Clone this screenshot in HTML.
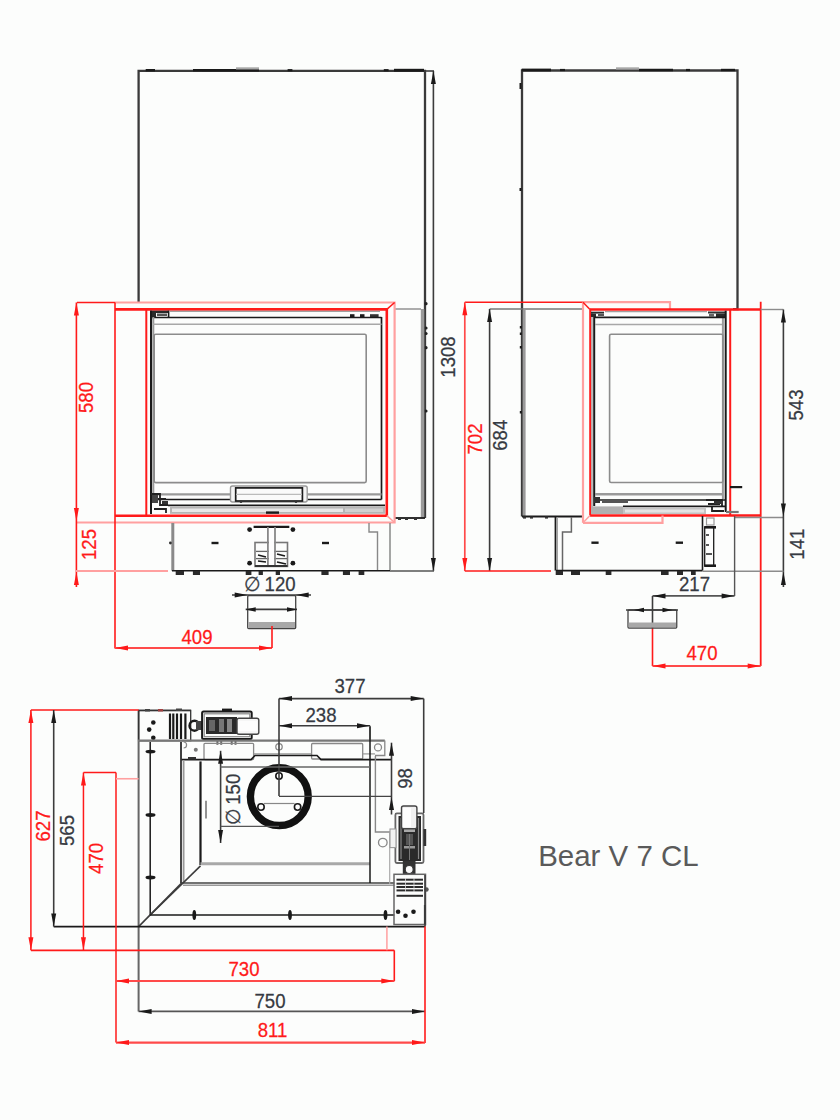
<!DOCTYPE html>
<html><head><meta charset="utf-8"><style>
html,body{margin:0;padding:0;background:#fcfdfc;}
svg{display:block;font-family:"Liberation Sans",sans-serif;}
</style></head><body>
<svg width="840" height="1120" viewBox="0 0 840 1120">
<rect width="840" height="1120" fill="#fcfdfc"/>
<path d="M138.6,302 L138.6,70.8 L425,70.8 L425,518" stroke="#3a3a3a" stroke-width="2.3" fill="none"/>
<line x1="145.7" y1="70.2" x2="155" y2="70.2" stroke="#1a1a1a" stroke-width="2.4"/>
<line x1="193" y1="70.2" x2="202" y2="70.2" stroke="#1a1a1a" stroke-width="2.4"/>
<line x1="202" y1="70.2" x2="259" y2="70.2" stroke="#1a1a1a" stroke-width="2.6"/>
<line x1="287.6" y1="70.2" x2="292.4" y2="70.2" stroke="#1a1a1a" stroke-width="2.2"/>
<line x1="383.8" y1="70.2" x2="388.6" y2="70.2" stroke="#1a1a1a" stroke-width="2.2"/>
<line x1="394" y1="70.2" x2="424" y2="70.2" stroke="#1a1a1a" stroke-width="2.8"/>
<rect x="236" y="67.3" width="23.00" height="2.20" fill="#a8a8a8"/>
<circle cx="426" cy="303.7" r="1.6" fill="#222"/>
<circle cx="426" cy="328" r="1.6" fill="#222"/>
<circle cx="426" cy="333.5" r="1.6" fill="#222"/>
<circle cx="426" cy="347.7" r="1.6" fill="#222"/>
<circle cx="426" cy="411" r="1.6" fill="#222"/>
<line x1="425" y1="71" x2="434" y2="71" stroke="#3c3c3c" stroke-width="1.6"/>
<line x1="433.4" y1="71" x2="433.4" y2="571" stroke="#3c3c3c" stroke-width="1.6"/>
<polygon points="433.4,71 430.9,84 435.9,84" fill="#1a1a1a"/>
<polygon points="433.4,571 430.9,558 435.9,558" fill="#1a1a1a"/>
<line x1="390" y1="571" x2="434" y2="571" stroke="#555555" stroke-width="1.3"/>
<text transform="translate(448,357) rotate(-90) scale(0.95,1)" x="0" y="7.14" text-anchor="middle" fill="#363a42" stroke="#363a42" stroke-width="0.25" font-size="19.6">1308</text>
<line x1="395" y1="309" x2="421" y2="309" stroke="#999" stroke-width="1.6"/>
<rect x="420.8" y="309" width="3.50" height="209.00" fill="#9a9a9a"/>
<line x1="395" y1="518" x2="425" y2="518" stroke="#1a1a1a" stroke-width="1.8"/>
<rect x="398" y="518" width="3.00" height="2.00" fill="#333"/>
<rect x="405" y="518" width="3.00" height="2.00" fill="#333"/>
<rect x="414" y="518" width="3.00" height="2.00" fill="#333"/>
<line x1="77" y1="302.5" x2="115" y2="302.5" stroke="#ff1a1a" stroke-width="1.6"/>
<path d="M115,302.5 L394.6,302.5 L394.6,522.5 L76,522.5" stroke="#ffa0a0" stroke-width="2.2" fill="none"/>
<line x1="115" y1="302.5" x2="115" y2="648.5" stroke="#ff1a1a" stroke-width="1.6"/>
<path d="M115,309.4 L386.8,309.4 L386.8,515.7 L115,515.7" stroke="#ff1a1a" stroke-width="2.6" fill="none"/>
<line x1="146.3" y1="309.4" x2="146.3" y2="515.7" stroke="#ff1a1a" stroke-width="2.0"/>
<line x1="394.6" y1="302.5" x2="386.8" y2="309.4" stroke="#ff1a1a" stroke-width="1.5"/>
<line x1="394.6" y1="522.5" x2="386.8" y2="515.7" stroke="#ffa0a0" stroke-width="1.6"/>
<line x1="76.4" y1="302.5" x2="76.4" y2="587" stroke="#ff1a1a" stroke-width="1.6"/>
<polygon points="76.4,302.5 73.9,315.5 78.9,315.5" fill="#ff1a1a"/>
<polygon points="76.4,521 73.9,508 78.9,508" fill="#ff1a1a"/>
<polygon points="76.4,572 73.9,585 78.9,585" fill="#ff1a1a"/>
<line x1="76" y1="571" x2="168" y2="571" stroke="#ffa0a0" stroke-width="2.0"/>
<text transform="translate(86.3,397.5) rotate(-90) scale(0.95,1)" x="0" y="7.14" text-anchor="middle" fill="#ff1a1a" stroke="#ff1a1a" stroke-width="0.25" font-size="19.6">580</text>
<text transform="translate(89,544.5) rotate(-90) scale(0.95,1)" x="0" y="7.14" text-anchor="middle" fill="#ff1a1a" stroke="#ff1a1a" stroke-width="0.25" font-size="19.6">125</text>
<rect x="150" y="310.7" width="19.00" height="2.30" fill="#2a2a2a"/>
<rect x="150" y="313" width="6.00" height="4.00" fill="#2a2a2a"/>
<rect x="157" y="313.5" width="10.00" height="2.50" fill="#555"/>
<line x1="168.6" y1="310.7" x2="168.6" y2="317.5" stroke="#1a1a1a" stroke-width="1.6"/>
<line x1="169" y1="311.4" x2="380" y2="311.4" stroke="#a0a0a0" stroke-width="1.3"/>
<rect x="350" y="314.2" width="4.50" height="3.30" fill="#1a1a1a"/>
<rect x="360" y="314.2" width="4.50" height="3.30" fill="#1a1a1a"/>
<rect x="370" y="314.2" width="8.60" height="3.30" fill="#333"/>
<line x1="150" y1="317.5" x2="381.5" y2="317.5" stroke="#1a1a1a" stroke-width="1.7"/>
<line x1="151" y1="310.7" x2="151" y2="514" stroke="#1a1a1a" stroke-width="2.0"/>
<line x1="153.3" y1="317" x2="153.3" y2="494" stroke="#9a9a9a" stroke-width="2.0"/>
<line x1="381.5" y1="317" x2="381.5" y2="499.5" stroke="#1a1a1a" stroke-width="1.7"/>
<line x1="153" y1="324.3" x2="381.5" y2="324.3" stroke="#a8a8a8" stroke-width="1.6"/>
<rect x="154.2" y="334.3" width="212.00" height="148.30" rx="1.5" stroke="#8c8c8c" stroke-width="1.6" fill="none"/>
<line x1="154" y1="494.3" x2="381.5" y2="494.3" stroke="#9a9a9a" stroke-width="2.2"/>
<line x1="152" y1="499.4" x2="381.5" y2="499.4" stroke="#1a1a1a" stroke-width="1.5"/>
<path d="M151,494 L160,494 L160,505 L168,505 M153,499 L166,499 M154,509 L166,509 L166,513" stroke="#222" stroke-width="1.8" fill="none"/>
<rect x="152" y="495" width="6.00" height="8.00" fill="#444"/>
<rect x="162" y="501" width="6.00" height="3.00" fill="#333"/>
<rect x="230.5" y="486" width="76.70" height="16.00" rx="2" stroke="#999" stroke-width="1.4" fill="#f4f4f4"/>
<rect x="235.7" y="487.9" width="66.70" height="13.10" rx="0" stroke="#1a1a1a" stroke-width="1.7" fill="#fafafa"/>
<line x1="236" y1="494.3" x2="302" y2="494.3" stroke="#bbb" stroke-width="1.2"/>
<circle cx="241" cy="501.8" r="1.3" fill="#333"/>
<circle cx="296" cy="501.8" r="1.3" fill="#333"/>
<line x1="168" y1="505.3" x2="385" y2="505.3" stroke="#1a1a1a" stroke-width="1.7"/>
<rect x="170" y="506.8" width="215.00" height="7.00" fill="#b5b5b5"/>
<rect x="172" y="508.5" width="171.00" height="3.50" fill="#e8e8e8"/>
<rect x="345" y="508.5" width="38.00" height="3.50" fill="#d0d0d0"/>
<rect x="266" y="511.4" width="13.00" height="2.40" fill="#1a1a1a"/>
<rect x="171.3" y="523" width="3.00" height="47.70" fill="#8a8a8a"/>
<circle cx="170.4" cy="543" r="1.4" fill="#333"/>
<line x1="390" y1="523" x2="390" y2="570.7" stroke="#888" stroke-width="1.5"/>
<path d="M369,523 L369,532 L377.5,532 L377.5,570.7" stroke="#888" stroke-width="1.4" fill="none"/>
<line x1="172" y1="570.7" x2="390" y2="570.7" stroke="#1a1a1a" stroke-width="1.6"/>
<rect x="175.7" y="571" width="8.30" height="4.00" fill="#2a2a2a"/>
<rect x="192.9" y="571" width="7.10" height="4.00" fill="#2a2a2a"/>
<rect x="245.7" y="571" width="5.70" height="4.00" fill="#2a2a2a"/>
<rect x="258.6" y="571" width="4.30" height="4.00" fill="#2a2a2a"/>
<rect x="275.7" y="571" width="4.30" height="4.00" fill="#2a2a2a"/>
<rect x="321.4" y="571" width="7.20" height="4.00" fill="#2a2a2a"/>
<rect x="342.9" y="571" width="7.10" height="4.00" fill="#2a2a2a"/>
<rect x="358.6" y="571" width="5.70" height="4.00" fill="#2a2a2a"/>
<line x1="211.5" y1="543" x2="218.5" y2="543" stroke="#1a1a1a" stroke-width="2.4"/>
<line x1="322" y1="543" x2="329" y2="543" stroke="#1a1a1a" stroke-width="2.4"/>
<line x1="253.6" y1="526.8" x2="289.3" y2="526.8" stroke="#1a1a1a" stroke-width="2.2"/>
<circle cx="249.6" cy="529.6" r="2.4" fill="#1a1a1a"/>
<circle cx="292.9" cy="529.6" r="2.4" fill="#1a1a1a"/>
<circle cx="249.6" cy="563.2" r="2.4" fill="#1a1a1a"/>
<circle cx="292.9" cy="563.2" r="2.4" fill="#1a1a1a"/>
<rect x="255" y="542.5" width="32.50" height="23.90" rx="0" stroke="#777" stroke-width="1.6" fill="none"/>
<line x1="256" y1="551.4" x2="287" y2="551.4" stroke="#666" stroke-width="1.3"/>
<line x1="256" y1="558.6" x2="287" y2="558.6" stroke="#666" stroke-width="1.3"/>
<path d="M258,555 L266,557 M277,554 L285,556 M258,561 L266,562 M277,562 L286,564" stroke="#1a1a1a" stroke-width="1.6" fill="none"/>
<line x1="267.9" y1="527" x2="267.9" y2="565.7" stroke="#888" stroke-width="1.8"/>
<line x1="275" y1="527" x2="275" y2="565.7" stroke="#888" stroke-width="1.8"/>
<rect x="269" y="528" width="5.00" height="37.00" fill="#fdfdfd"/>
<line x1="255" y1="566" x2="287.5" y2="566" stroke="#333" stroke-width="1.8"/>
<rect x="247.7" y="595.7" width="48.00" height="32.90" rx="1" stroke="#444" stroke-width="1.3" fill="none"/>
<rect x="248.4" y="622" width="46.60" height="6.00" fill="#a8a8a8"/>
<line x1="232" y1="595" x2="311" y2="595" stroke="#3c3c3c" stroke-width="1.6"/>
<polygon points="247.7,595 234.7,592.5 234.7,597.5" fill="#1a1a1a"/>
<polygon points="295.7,595 308.7,592.5 308.7,597.5" fill="#1a1a1a"/>
<line x1="245.7" y1="609.4" x2="297" y2="609.4" stroke="#3c3c3c" stroke-width="1.6"/>
<polygon points="245.7,609.4 255.7,607.15 255.7,611.65" fill="#1a1a1a"/>
<polygon points="297,609.4 287,607.15 287,611.65" fill="#1a1a1a"/>
<text transform="translate(270,591) scale(0.95,1)" x="0" y="0" text-anchor="middle" fill="#363a42" stroke="#363a42" stroke-width="0.25" font-size="19.6">∅ 120</text>
<line x1="115" y1="648" x2="272" y2="648" stroke="#ff4a4a" stroke-width="2.0"/>
<line x1="272" y1="626" x2="272" y2="648" stroke="#ff1a1a" stroke-width="1.6"/>
<polygon points="115,648 128,645.5 128,650.5" fill="#ff1a1a"/>
<polygon points="272,648 259,645.5 259,650.5" fill="#ff1a1a"/>
<text transform="translate(197,644.3) scale(0.95,1)" x="0" y="0" text-anchor="middle" fill="#ff1a1a" stroke="#ff1a1a" stroke-width="0.25" font-size="19.6">409</text>
<path d="M522,516.5 L522,70.5 L737.5,70.5 L737.5,309.2 L733,309.2" stroke="#3a3a3a" stroke-width="2.3" fill="none"/>
<line x1="521.7" y1="70" x2="551" y2="70" stroke="#1a1a1a" stroke-width="2.8"/>
<line x1="560" y1="70" x2="565" y2="70" stroke="#1a1a1a" stroke-width="2.2"/>
<line x1="639" y1="70" x2="673" y2="70" stroke="#1a1a1a" stroke-width="2.6"/>
<line x1="686" y1="70" x2="690" y2="70" stroke="#1a1a1a" stroke-width="2.2"/>
<line x1="721" y1="70" x2="735" y2="70" stroke="#1a1a1a" stroke-width="2.4"/>
<rect x="616" y="67.3" width="23.00" height="2.20" fill="#a8a8a8"/>
<line x1="520.5" y1="83" x2="520.5" y2="89" stroke="#1a1a1a" stroke-width="2"/>
<line x1="520.5" y1="188" x2="520.5" y2="191" stroke="#1a1a1a" stroke-width="2"/>
<line x1="520.8" y1="326" x2="520.8" y2="328.5" stroke="#1a1a1a" stroke-width="2"/>
<line x1="520.8" y1="332.5" x2="520.8" y2="335.0" stroke="#1a1a1a" stroke-width="2"/>
<line x1="520.8" y1="346" x2="520.8" y2="348.5" stroke="#1a1a1a" stroke-width="2"/>
<line x1="520.8" y1="411" x2="520.8" y2="413.5" stroke="#1a1a1a" stroke-width="2"/>
<rect x="522.6" y="310" width="3.00" height="206.50" fill="#9a9a9a"/>
<line x1="522" y1="516.5" x2="583" y2="516.5" stroke="#1a1a1a" stroke-width="1.8"/>
<rect x="523" y="516.5" width="3.00" height="2.10" fill="#333"/>
<rect x="530" y="516.5" width="3.00" height="2.10" fill="#333"/>
<rect x="545" y="516.5" width="3.00" height="2.10" fill="#333"/>
<line x1="489.6" y1="309" x2="583" y2="309" stroke="#777" stroke-width="1.5"/>
<line x1="489.6" y1="309" x2="489.6" y2="571" stroke="#3c3c3c" stroke-width="1.6"/>
<polygon points="489.6,309 487.1,322 492.1,322" fill="#1a1a1a"/>
<polygon points="489.6,571 487.1,558 492.1,558" fill="#1a1a1a"/>
<text transform="translate(499.4,435.3) rotate(-90) scale(0.95,1)" x="0" y="7.14" text-anchor="middle" fill="#363a42" stroke="#363a42" stroke-width="0.25" font-size="19.6">684</text>
<line x1="464.8" y1="302.2" x2="583" y2="302.2" stroke="#ff1a1a" stroke-width="1.6"/>
<line x1="464.8" y1="302.2" x2="464.8" y2="571" stroke="#ff4a4a" stroke-width="1.7"/>
<polygon points="464.8,302.2 462.3,315.2 467.3,315.2" fill="#ff1a1a"/>
<polygon points="464.8,571 462.3,558 467.3,558" fill="#ff1a1a"/>
<line x1="464.8" y1="571" x2="551" y2="571" stroke="#ff1a1a" stroke-width="1.6"/>
<text transform="translate(474.4,439) rotate(-90) scale(0.95,1)" x="0" y="7.14" text-anchor="middle" fill="#ff1a1a" stroke="#ff1a1a" stroke-width="0.25" font-size="19.6">702</text>
<path d="M583,302.2 L670,302.2 L670,309.5" stroke="#ffa0a0" stroke-width="2.2" fill="none"/>
<line x1="583" y1="302.2" x2="583" y2="522.8" stroke="#ffa0a0" stroke-width="2.2"/>
<line x1="583" y1="302.2" x2="590" y2="309.5" stroke="#ff1a1a" stroke-width="1.5"/>
<line x1="590" y1="309.5" x2="760.7" y2="309.5" stroke="#ff1a1a" stroke-width="2.6"/>
<line x1="590.2" y1="309.5" x2="590.2" y2="515.5" stroke="#ff1a1a" stroke-width="2.0"/>
<line x1="590" y1="515.5" x2="760.7" y2="515.5" stroke="#ff1a1a" stroke-width="2.6"/>
<path d="M583,522.8 L662.5,522.8 L662.5,515.5" stroke="#ffa0a0" stroke-width="2.2" fill="none"/>
<line x1="583" y1="522.8" x2="590" y2="515.5" stroke="#ffa0a0" stroke-width="1.5"/>
<line x1="730.2" y1="309.5" x2="730.2" y2="515.5" stroke="#ff1a1a" stroke-width="2.0"/>
<line x1="760.7" y1="301.7" x2="760.7" y2="666" stroke="#ff1a1a" stroke-width="1.8"/>
<line x1="592" y1="312" x2="592" y2="510" stroke="#9a9a9a" stroke-width="1.3"/>
<line x1="594.2" y1="317" x2="594.2" y2="506" stroke="#1a1a1a" stroke-width="2.0"/>
<rect x="591" y="311.7" width="13.00" height="1.90" fill="#2a2a2a"/>
<rect x="591" y="313.6" width="5.00" height="3.40" fill="#2a2a2a"/>
<rect x="598" y="314" width="6.00" height="2.00" fill="#555"/>
<rect x="708" y="311.5" width="17.00" height="2.00" fill="#333"/>
<rect x="716" y="313.5" width="9.00" height="3.50" fill="#2a2a2a"/>
<rect x="709" y="314" width="5.00" height="2.50" fill="#666"/>
<line x1="605" y1="311.6" x2="707" y2="311.6" stroke="#a0a0a0" stroke-width="1.3"/>
<line x1="725.7" y1="310.7" x2="725.7" y2="512" stroke="#1a1a1a" stroke-width="2.0"/>
<line x1="722.9" y1="317" x2="722.9" y2="499" stroke="#9a9a9a" stroke-width="2.0"/>
<line x1="594" y1="317.4" x2="725.7" y2="317.4" stroke="#1a1a1a" stroke-width="1.7"/>
<line x1="595" y1="324.5" x2="722" y2="324.5" stroke="#a8a8a8" stroke-width="1.6"/>
<rect x="609.6" y="334.2" width="113.30" height="148.30" rx="1.5" stroke="#8c8c8c" stroke-width="1.6" fill="none"/>
<line x1="595" y1="494.3" x2="722" y2="494.3" stroke="#9a9a9a" stroke-width="2.4"/>
<line x1="594" y1="500" x2="725.7" y2="500" stroke="#1a1a1a" stroke-width="1.5"/>
<rect x="594" y="497" width="6.00" height="6.00" fill="#333"/>
<rect x="602" y="500" width="26.00" height="3.00" fill="#555"/>
<path d="M706,500 L722,500 L722,507 M708,504 L720,504 M712,507 L712,511 L724,511" stroke="#222" stroke-width="1.8" fill="none"/>
<rect x="714" y="501" width="7.00" height="3.00" fill="#333"/>
<line x1="623" y1="506.4" x2="725" y2="506.4" stroke="#1a1a1a" stroke-width="1.7"/>
<rect x="591" y="506.4" width="32.00" height="7.60" fill="#b0b0b0"/>
<rect x="623" y="507.6" width="83.00" height="6.40" fill="#c4c4c4"/>
<rect x="625" y="509.5" width="79.00" height="3.00" fill="#e4e4e4"/>
<line x1="730" y1="487.1" x2="742.2" y2="487.1" stroke="#1a1a1a" stroke-width="2.2"/>
<line x1="726" y1="512" x2="738.7" y2="512" stroke="#777" stroke-width="2.2"/>
<line x1="555.5" y1="517" x2="555.5" y2="570.6" stroke="#1a1a1a" stroke-width="1.8"/>
<line x1="557.3" y1="517" x2="557.3" y2="570.6" stroke="#999" stroke-width="1.2"/>
<path d="M571.4,517 L571.4,532 L562.5,532 L562.5,570.6" stroke="#666" stroke-width="1.5" fill="none"/>
<line x1="556" y1="570.6" x2="702.5" y2="570.6" stroke="#1a1a1a" stroke-width="1.6"/>
<line x1="702.5" y1="516" x2="702.5" y2="570.6" stroke="#1a1a1a" stroke-width="1.6"/>
<rect x="704.7" y="527.3" width="9.00" height="38.40" rx="0" stroke="#1a1a1a" stroke-width="1.3" fill="none"/>
<line x1="704.2" y1="527.3" x2="716" y2="527.3" stroke="#1a1a1a" stroke-width="2.6"/>
<line x1="704.2" y1="565.7" x2="716" y2="565.7" stroke="#1a1a1a" stroke-width="2.6"/>
<rect x="706.5" y="518" width="7.50" height="7.00" rx="0" stroke="#999" stroke-width="1.2" fill="none"/>
<line x1="706" y1="535" x2="709" y2="535" stroke="#555" stroke-width="2"/>
<line x1="706" y1="545" x2="709" y2="545" stroke="#555" stroke-width="2"/>
<line x1="706" y1="554" x2="712" y2="554" stroke="#555" stroke-width="2"/>
<line x1="591.4" y1="542.7" x2="598.6" y2="542.7" stroke="#1a1a1a" stroke-width="2.4"/>
<line x1="675.7" y1="542.7" x2="683" y2="542.7" stroke="#1a1a1a" stroke-width="2.4"/>
<rect x="555.7" y="571" width="7.30" height="4.00" fill="#2a2a2a"/>
<rect x="571" y="571" width="9.00" height="4.00" fill="#2a2a2a"/>
<rect x="605.7" y="571" width="5.70" height="4.00" fill="#2a2a2a"/>
<rect x="661" y="571" width="7.60" height="4.00" fill="#2a2a2a"/>
<rect x="677" y="571" width="6.00" height="4.00" fill="#2a2a2a"/>
<rect x="691" y="571" width="4.70" height="4.00" fill="#2a2a2a"/>
<line x1="734.6" y1="517.5" x2="783.4" y2="517.5" stroke="#8c8c8c" stroke-width="1.4"/>
<line x1="760.7" y1="309.5" x2="783.4" y2="309.5" stroke="#8c8c8c" stroke-width="1.4"/>
<line x1="783.4" y1="309.5" x2="783.4" y2="587" stroke="#3c3c3c" stroke-width="1.6"/>
<polygon points="783.4,309.5 780.9,322.5 785.9,322.5" fill="#1a1a1a"/>
<polygon points="783.4,516.4 780.9,503.4 785.9,503.4" fill="#1a1a1a"/>
<polygon points="783.4,572 780.9,585 785.9,585" fill="#1a1a1a"/>
<line x1="702.5" y1="571.2" x2="783.4" y2="571.2" stroke="#8c8c8c" stroke-width="1.4"/>
<text transform="translate(796,405) rotate(-90) scale(0.95,1)" x="0" y="7.14" text-anchor="middle" fill="#363a42" stroke="#363a42" stroke-width="0.25" font-size="19.6">543</text>
<text transform="translate(796.4,544.2) rotate(-90) scale(0.95,1)" x="0" y="7.14" text-anchor="middle" fill="#363a42" stroke="#363a42" stroke-width="0.25" font-size="19.6">141</text>
<line x1="734.6" y1="516" x2="734.6" y2="596" stroke="#555555" stroke-width="1.4"/>
<line x1="652.5" y1="595.9" x2="734.6" y2="595.9" stroke="#555" stroke-width="1.7"/>
<polygon points="652.5,595.9 665.5,593.4 665.5,598.4" fill="#1a1a1a"/>
<polygon points="734.6,595.9 721.6,593.4 721.6,598.4" fill="#1a1a1a"/>
<text transform="translate(694.5,590.75) scale(0.95,1)" x="0" y="0" text-anchor="middle" fill="#363a42" stroke="#363a42" stroke-width="0.25" font-size="19.6">217</text>
<line x1="652.5" y1="596" x2="652.5" y2="627.5" stroke="#3c3c3c" stroke-width="1.6"/>
<line x1="652.5" y1="627.5" x2="652.5" y2="666" stroke="#ff1a1a" stroke-width="1.6"/>
<rect x="628" y="610" width="48.75" height="18.00" rx="1" stroke="#444" stroke-width="1.3" fill="none"/>
<rect x="628.7" y="622.5" width="47.30" height="5.00" fill="#a8a8a8"/>
<line x1="626" y1="610" x2="678" y2="610" stroke="#3c3c3c" stroke-width="1.6"/>
<polygon points="634,610 644,607.75 644,612.25" fill="#1a1a1a"/>
<polygon points="672.5,610 662.5,607.75 662.5,612.25" fill="#1a1a1a"/>
<line x1="652.5" y1="666" x2="760.7" y2="666" stroke="#ff4a4a" stroke-width="2.0"/>
<polygon points="652.5,666 665.5,663.5 665.5,668.5" fill="#ff1a1a"/>
<polygon points="760.7,666 747.7,663.5 747.7,668.5" fill="#ff1a1a"/>
<text transform="translate(702,660) scale(0.95,1)" x="0" y="0" text-anchor="middle" fill="#ff1a1a" stroke="#ff1a1a" stroke-width="0.25" font-size="19.6">470</text>
<line x1="138.6" y1="710.4" x2="138.6" y2="1011.5" stroke="#666" stroke-width="2.0"/>
<line x1="138" y1="710.4" x2="191" y2="710.4" stroke="#1a1a1a" stroke-width="1.5"/>
<rect x="138.6" y="710.4" width="52.10" height="30.30" rx="0" stroke="#333" stroke-width="1.3" fill="none"/>
<line x1="170" y1="713.5" x2="170" y2="739" stroke="#1a1a1a" stroke-width="2.2"/>
<line x1="173.3" y1="713.5" x2="173.3" y2="739" stroke="#1a1a1a" stroke-width="2.2"/>
<line x1="177" y1="713.5" x2="177" y2="739" stroke="#1a1a1a" stroke-width="2.2"/>
<line x1="181" y1="713.5" x2="181" y2="739" stroke="#1a1a1a" stroke-width="2.2"/>
<line x1="185.4" y1="713.5" x2="185.4" y2="739" stroke="#1a1a1a" stroke-width="2.2"/>
<circle cx="153.3" cy="722.5" r="2.3" fill="#1a1a1a"/>
<circle cx="149.2" cy="729.6" r="2.3" fill="#1a1a1a"/>
<circle cx="153.3" cy="737.7" r="2.3" fill="#1a1a1a"/>
<rect x="145" y="709" width="5.00" height="2.50" fill="#444"/>
<rect x="158" y="709" width="5.00" height="2.50" fill="#a04040"/>
<rect x="176" y="708.5" width="6.00" height="2.50" fill="#444"/>
<circle cx="194.5" cy="725.7" r="5" stroke="#1a1a1a" stroke-width="2.4" fill="none"/>
<rect x="196" y="721" width="7.00" height="9.00" fill="#444"/>
<rect x="202.1" y="711.4" width="49.60" height="27.60" rx="1.5" stroke="#1a1a1a" stroke-width="2.0" fill="none"/>
<rect x="204.2" y="713.8" width="45.60" height="22.90" rx="0" stroke="#888" stroke-width="1.2" fill="none"/>
<rect x="206" y="717" width="31.00" height="17.00" fill="#2a2a2a"/>
<rect x="209" y="720" width="6.00" height="11.00" fill="#666"/>
<rect x="219" y="719" width="5.00" height="13.00" fill="#777"/>
<rect x="227" y="719" width="5.00" height="13.00" fill="#888"/>
<rect x="237" y="718.2" width="21.80" height="16.00" rx="2" stroke="#444" stroke-width="1.4" fill="#f6f6f6"/>
<rect x="238" y="721" width="19.00" height="10.00" fill="#fdfdfd"/>
<rect x="222" y="708.6" width="10.00" height="2.80" fill="#1a1a1a"/>
<line x1="217.4" y1="740" x2="217.4" y2="744.8" stroke="#666" stroke-width="2"/>
<line x1="221.2" y1="740" x2="221.2" y2="744.8" stroke="#666" stroke-width="2"/>
<line x1="231.7" y1="740" x2="231.7" y2="744.8" stroke="#666" stroke-width="2"/>
<line x1="235.5" y1="740" x2="235.5" y2="744.8" stroke="#666" stroke-width="2"/>
<line x1="138" y1="740.6" x2="384.8" y2="740.6" stroke="#777" stroke-width="2.2"/>
<path d="M181,759.6 L181,741.5" stroke="#888" stroke-width="1.2" fill="none"/>
<path d="M183.6,742 a3,3 0 0 1 0,6" stroke="#888" stroke-width="1.2" fill="none"/>
<circle cx="195.8" cy="749.8" r="2" fill="#777"/>
<rect x="204" y="743.3" width="49.60" height="16.30" rx="1" stroke="#888" stroke-width="1.3" fill="none"/>
<circle cx="279" cy="746.8" r="3.2" stroke="#888" stroke-width="1.3" fill="none"/>
<rect x="311.6" y="743.5" width="51.10" height="15.50" rx="1" stroke="#888" stroke-width="1.3" fill="none"/>
<circle cx="378" cy="747.4" r="3.5" stroke="#888" stroke-width="1.3" fill="none"/>
<line x1="253.6" y1="753.9" x2="311.6" y2="753.9" stroke="#999" stroke-width="1.2"/>
<line x1="362.7" y1="753.9" x2="375" y2="753.9" stroke="#999" stroke-width="1.2"/>
<path d="M375,755.5 L384.8,755.5 L384.8,740.6" stroke="#888" stroke-width="1.3" fill="none"/>
<path d="M181,759.6 L251,759.6 L255,755.5 L317,755.5 L321,759.6 L391.5,759.6" stroke="#1a1a1a" stroke-width="1.6" fill="none"/>
<rect x="188" y="757" width="8.00" height="2.60" fill="#333"/>
<line x1="150.2" y1="742" x2="150.2" y2="915" stroke="#1a1a1a" stroke-width="1.5"/>
<ellipse cx="150.5" cy="751.6" rx="5" ry="1.9" fill="#1a1a1a"/>
<ellipse cx="150.5" cy="815" rx="5" ry="1.9" fill="#1a1a1a"/>
<ellipse cx="150.5" cy="877.5" rx="5" ry="1.9" fill="#1a1a1a"/>
<line x1="181" y1="742" x2="181" y2="883" stroke="#333" stroke-width="1.8"/>
<line x1="183.6" y1="760" x2="183.6" y2="883" stroke="#999" stroke-width="1.8"/>
<line x1="200.5" y1="761.4" x2="200.5" y2="865" stroke="#1a1a1a" stroke-width="2.2"/>
<line x1="206" y1="800.7" x2="206" y2="818.6" stroke="#777" stroke-width="1.6"/>
<line x1="181" y1="883" x2="394.3" y2="883" stroke="#444" stroke-width="1.6"/>
<line x1="183" y1="885.2" x2="394.3" y2="885.2" stroke="#999" stroke-width="1.4"/>
<line x1="200.5" y1="863.8" x2="370" y2="863.8" stroke="#a8a8a8" stroke-width="3.0"/>
<line x1="138.6" y1="926.6" x2="181.8" y2="882.9" stroke="#3c3c3c" stroke-width="1.6"/>
<line x1="150.2" y1="915" x2="200.5" y2="865.9" stroke="#3c3c3c" stroke-width="1.6"/>
<line x1="150" y1="915" x2="394.3" y2="915" stroke="#1a1a1a" stroke-width="1.7"/>
<ellipse cx="194.3" cy="915" rx="1.9" ry="5" fill="#1a1a1a"/>
<ellipse cx="290" cy="915" rx="1.9" ry="5" fill="#1a1a1a"/>
<ellipse cx="385.5" cy="915" rx="1.9" ry="5" fill="#1a1a1a"/>
<line x1="53.7" y1="926.6" x2="425.3" y2="926.6" stroke="#1a1a1a" stroke-width="1.7"/>
<line x1="370" y1="727" x2="370" y2="883" stroke="#1a1a1a" stroke-width="1.5"/>
<path d="M375.4,756 L375.4,832 L391.5,832" stroke="#888" stroke-width="1.4" fill="none"/>
<line x1="389.7" y1="832" x2="389.7" y2="884" stroke="#aaa" stroke-width="1.2"/>
<circle cx="382.8" cy="842.6" r="4.3" stroke="#888" stroke-width="1.3" fill="none"/>
<rect x="395.4" y="813.4" width="28.10" height="49.60" rx="1.5" stroke="#666" stroke-width="1.8" fill="none"/>
<rect x="398.5" y="816" width="22.50" height="45.00" fill="#2a2a2a"/>
<line x1="401" y1="818" x2="401" y2="859" stroke="#888" stroke-width="1.2"/>
<line x1="418.5" y1="818" x2="418.5" y2="859" stroke="#888" stroke-width="1.2"/>
<rect x="404" y="829" width="11.00" height="3.00" fill="#aaa"/>
<rect x="404" y="846" width="11.00" height="2.50" fill="#999"/>
<rect x="406" y="834" width="7.00" height="11.00" fill="#555"/>
<line x1="409.5" y1="834" x2="409.5" y2="860" stroke="#777" stroke-width="1"/>
<rect x="401.5" y="806" width="15.40" height="22.80" rx="2" stroke="#444" stroke-width="1.4" fill="#f0f0f0"/>
<rect x="403" y="808" width="8.00" height="19.00" fill="#fdfdfd"/>
<rect x="390" y="829" width="6.00" height="18.60" fill="#f2f2f2"/>
<rect x="390" y="829" width="6.00" height="18.60" rx="0" stroke="#999" stroke-width="1.1" fill="none"/>
<rect x="402.8" y="861" width="12.70" height="13.30" fill="#333"/>
<circle cx="409.2" cy="869.5" r="4" stroke="#333" stroke-width="1.2" fill="#fafafa"/>
<rect x="423.5" y="829" width="2.70" height="17.00" fill="#333"/>
<rect x="394" y="874.3" width="31.50" height="50.20" rx="0" stroke="#666" stroke-width="1.5" fill="none"/>
<line x1="396.5" y1="879.7" x2="423" y2="879.7" stroke="#2a2a2a" stroke-width="2.0"/>
<line x1="396.5" y1="883.7" x2="423" y2="883.7" stroke="#2a2a2a" stroke-width="2.0"/>
<line x1="396.5" y1="887" x2="423" y2="887" stroke="#2a2a2a" stroke-width="2.0"/>
<line x1="396.5" y1="890.4" x2="423" y2="890.4" stroke="#2a2a2a" stroke-width="2.0"/>
<line x1="396.5" y1="895.8" x2="423" y2="895.8" stroke="#2a2a2a" stroke-width="2.0"/>
<line x1="405.5" y1="878" x2="405.5" y2="892" stroke="#ddd" stroke-width="0.8"/>
<line x1="414" y1="878" x2="414" y2="892" stroke="#ddd" stroke-width="0.8"/>
<circle cx="398.1" cy="911.8" r="2.3" fill="#1a1a1a"/>
<circle cx="405.5" cy="915.8" r="2.3" fill="#1a1a1a"/>
<circle cx="413.5" cy="911.8" r="2.3" fill="#1a1a1a"/>
<circle cx="426.5" cy="889.5" r="2.2" fill="#555"/>
<line x1="424.8" y1="905" x2="424.8" y2="924" stroke="#333" stroke-width="1.8"/>
<circle cx="279.3" cy="796.6" r="28.9" stroke="#111" stroke-width="7.4" fill="none"/>
<circle cx="279" cy="776" r="3.2" stroke="#1a1a1a" stroke-width="1.6" fill="#fdfdfd"/>
<circle cx="261" cy="807" r="3.2" stroke="#1a1a1a" stroke-width="1.6" fill="#fdfdfd"/>
<circle cx="297.6" cy="807" r="3.2" stroke="#1a1a1a" stroke-width="1.6" fill="#fdfdfd"/>
<line x1="264" y1="803.5" x2="294.6" y2="803.5" stroke="#888" stroke-width="1.2"/>
<line x1="279" y1="698.6" x2="279" y2="796" stroke="#3c3c3c" stroke-width="1.6"/>
<line x1="279" y1="698.6" x2="423.7" y2="698.6" stroke="#3c3c3c" stroke-width="1.6"/>
<polygon points="279,698.6 292,696.1 292,701.1" fill="#1a1a1a"/>
<polygon points="423.7,698.6 410.7,696.1 410.7,701.1" fill="#1a1a1a"/>
<line x1="423.7" y1="698.6" x2="423.7" y2="813" stroke="#3c3c3c" stroke-width="1.6"/>
<text transform="translate(350,693) scale(0.95,1)" x="0" y="0" text-anchor="middle" fill="#363a42" stroke="#363a42" stroke-width="0.25" font-size="19.6">377</text>
<line x1="279" y1="725.8" x2="370" y2="725.8" stroke="#3c3c3c" stroke-width="1.6"/>
<polygon points="279,725.8 292,723.3 292,728.3" fill="#1a1a1a"/>
<polygon points="370,725.8 357,723.3 357,728.3" fill="#1a1a1a"/>
<line x1="370" y1="725.8" x2="370" y2="740" stroke="#3c3c3c" stroke-width="1.6"/>
<text transform="translate(321,722) scale(0.95,1)" x="0" y="0" text-anchor="middle" fill="#363a42" stroke="#363a42" stroke-width="0.25" font-size="19.6">238</text>
<line x1="279" y1="796.4" x2="391.5" y2="796.4" stroke="#444" stroke-width="1.3"/>
<line x1="391.5" y1="742.7" x2="391.5" y2="814.5" stroke="#3c3c3c" stroke-width="1.6"/>
<polygon points="391.5,742.7 389.0,755.7 394.0,755.7" fill="#1a1a1a"/>
<polygon points="391.5,797 389.0,810 394.0,810" fill="#1a1a1a"/>
<text transform="translate(404.5,778.5) rotate(-90) scale(0.95,1)" x="0" y="7.14" text-anchor="middle" fill="#363a42" stroke="#363a42" stroke-width="0.25" font-size="19.6">98</text>
<line x1="220.6" y1="750.8" x2="220.6" y2="843" stroke="#3c3c3c" stroke-width="1.6"/>
<polygon points="220.6,750.8 218.1,763.8 223.1,763.8" fill="#1a1a1a"/>
<polygon points="220.6,843 218.1,830 223.1,830" fill="#1a1a1a"/>
<line x1="220.6" y1="767" x2="370" y2="767" stroke="#666" stroke-width="1.4"/>
<line x1="220.6" y1="826.4" x2="279" y2="826.4" stroke="#555" stroke-width="1.4"/>
<text transform="translate(233.2,799.4) rotate(-90) scale(0.95,1)" x="0" y="7.14" text-anchor="middle" fill="#363a42" stroke="#363a42" stroke-width="0.25" font-size="19.6">∅ 150</text>
<line x1="30.9" y1="710" x2="138.6" y2="710" stroke="#ff1a1a" stroke-width="1.6"/>
<line x1="30.9" y1="710" x2="30.9" y2="950.3" stroke="#ff1a1a" stroke-width="1.5"/>
<polygon points="30.9,710 28.4,723 33.4,723" fill="#ff1a1a"/>
<polygon points="30.9,950.3 28.4,937.3 33.4,937.3" fill="#ff1a1a"/>
<text transform="translate(42.5,826) rotate(-90) scale(0.95,1)" x="0" y="7.14" text-anchor="middle" fill="#ff1a1a" stroke="#ff1a1a" stroke-width="0.25" font-size="19.6">627</text>
<line x1="53.7" y1="710" x2="53.7" y2="926.6" stroke="#3c3c3c" stroke-width="1.6"/>
<polygon points="53.7,710 51.2,723 56.2,723" fill="#1a1a1a"/>
<polygon points="53.7,926.6 51.2,913.6 56.2,913.6" fill="#1a1a1a"/>
<text transform="translate(66.6,830.5) rotate(-90) scale(0.95,1)" x="0" y="7.14" text-anchor="middle" fill="#363a42" stroke="#363a42" stroke-width="0.25" font-size="19.6">565</text>
<line x1="83.45" y1="772.5" x2="83.45" y2="950.3" stroke="#ff1a1a" stroke-width="1.5"/>
<polygon points="83.45,772.5 80.95,785.5 85.95,785.5" fill="#ff1a1a"/>
<polygon points="83.45,950.3 80.95,937.3 85.95,937.3" fill="#ff1a1a"/>
<line x1="83.45" y1="772.5" x2="116" y2="772.5" stroke="#ff1a1a" stroke-width="1.6"/>
<line x1="116" y1="772.5" x2="116" y2="1042.5" stroke="#ff1a1a" stroke-width="1.5"/>
<line x1="116" y1="778.75" x2="138.6" y2="778.75" stroke="#ffa0a0" stroke-width="1.6"/>
<text transform="translate(95.5,858.4) rotate(-90) scale(0.95,1)" x="0" y="7.14" text-anchor="middle" fill="#ff1a1a" stroke="#ff1a1a" stroke-width="0.25" font-size="19.6">470</text>
<line x1="30.9" y1="950.3" x2="394.3" y2="950.3" stroke="#ff1a1a" stroke-width="1.7"/>
<line x1="386.9" y1="926.6" x2="386.9" y2="950.3" stroke="#ffa0a0" stroke-width="1.5"/>
<line x1="394.3" y1="950.3" x2="394.3" y2="981.2" stroke="#ff1a1a" stroke-width="1.6"/>
<line x1="116" y1="981" x2="394.3" y2="981" stroke="#ff4a4a" stroke-width="2.0"/>
<polygon points="116,981 129,978.5 129,983.5" fill="#ff1a1a"/>
<polygon points="394.3,981 381.3,978.5 381.3,983.5" fill="#ff1a1a"/>
<text transform="translate(244,975.5) scale(0.95,1)" x="0" y="0" text-anchor="middle" fill="#ff1a1a" stroke="#ff1a1a" stroke-width="0.25" font-size="19.6">730</text>
<line x1="138.6" y1="1011.4" x2="425" y2="1011.4" stroke="#555" stroke-width="1.8"/>
<polygon points="138.6,1011.4 151.6,1008.9 151.6,1013.9" fill="#1a1a1a"/>
<polygon points="425,1011.4 412,1008.9 412,1013.9" fill="#1a1a1a"/>
<line x1="425" y1="875" x2="425" y2="926.6" stroke="#3c3c3c" stroke-width="1.6"/>
<text transform="translate(270,1007.9) scale(0.95,1)" x="0" y="0" text-anchor="middle" fill="#363a42" stroke="#363a42" stroke-width="0.25" font-size="19.6">750</text>
<line x1="425" y1="926.6" x2="425" y2="1043" stroke="#ff1a1a" stroke-width="1.6"/>
<line x1="116" y1="1042.6" x2="425" y2="1042.6" stroke="#ff4a4a" stroke-width="2.2"/>
<polygon points="116,1042.6 129,1040.1 129,1045.1" fill="#ff1a1a"/>
<polygon points="425,1042.6 412,1040.1 412,1045.1" fill="#ff1a1a"/>
<text transform="translate(272.5,1037) scale(0.95,1)" x="0" y="0" text-anchor="middle" fill="#ff1a1a" stroke="#ff1a1a" stroke-width="0.25" font-size="19.6">811</text>
<text x="538.2" y="865.9" fill="#5a5a5a" font-size="29.4" textLength="160.5" lengthAdjust="spacingAndGlyphs">Bear V 7 CL</text>
</svg></body></html>
